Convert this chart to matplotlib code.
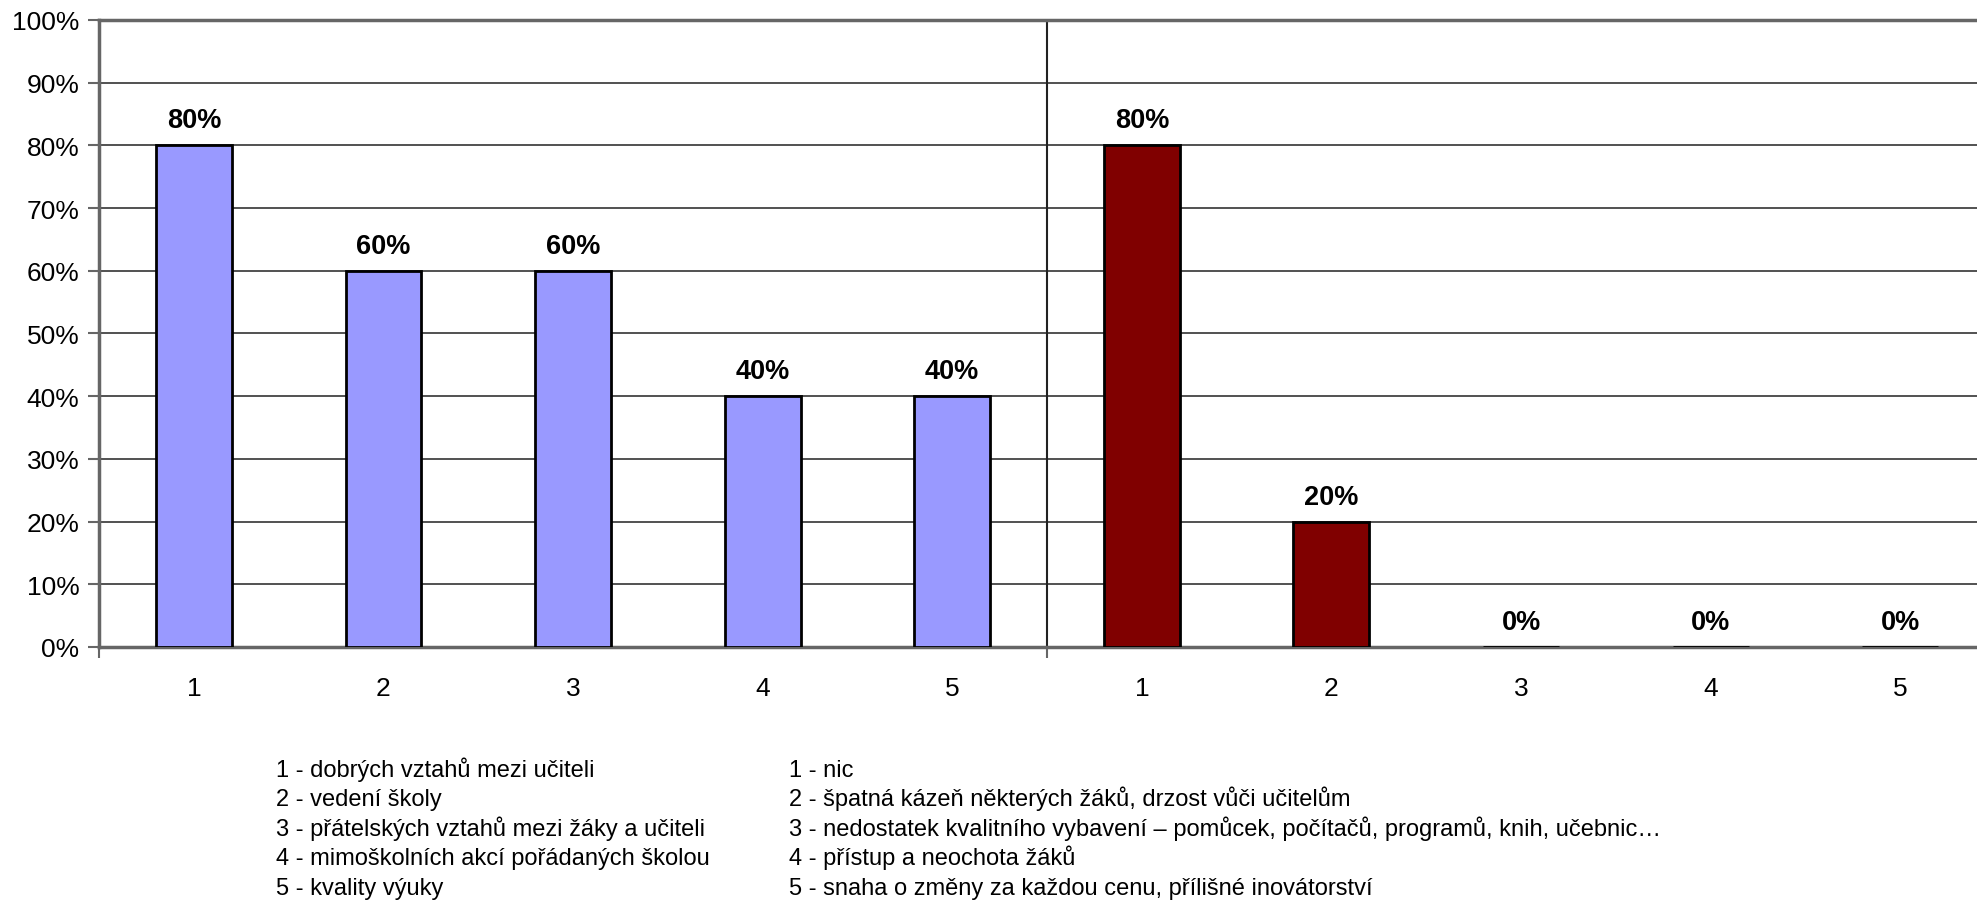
import numpy as np
import matplotlib.pyplot as plt

plt.rcParams['font.family'] = ['Liberation Sans', 'DejaVu Sans']

# data
categories = ['1', '2', '3', '4', '5']
positive = [80, 60, 60, 40, 40]   # what is good at the school
negative = [80, 20, 0, 0, 0]      # what is bad at the school

legend_left = [
    '1 - dobrých vztahů mezi učiteli',
    '2 - vedení školy',
    '3 - přátelských vztahů mezi žáky a učiteli',
    '4 - mimoškolních akcí pořádaných školou',
    '5 - kvality výuky',
]
legend_right = [
    '1 - nic',
    '2 - špatná kázeň některých žáků, drzost vůči učitelům',
    '3 - nedostatek kvalitního vybavení – pomůcek, počítačů, programů, knih, učebnic…',
    '4 - přístup a neochota žáků',
    '5 - snaha o změny za každou cenu, přílišné inovátorství',
]

fig = plt.figure(figsize=(19.77, 9.04), dpi=100)
ax = fig.add_axes([0.0501, 0.2832, 0.959, 0.6936])

n = len(categories)
x1 = np.arange(n)
x2 = np.arange(n) + n
values = positive + negative
xs = np.concatenate([x1, x2])

ax.bar(x1, positive, width=0.4, color='#9999FF', edgecolor='black', linewidth=2, zorder=3)
ax.bar(x2, negative, width=0.4, color='#800000', edgecolor='black', linewidth=2, zorder=3)

for x, v in zip(xs, values):
    ax.annotate(f'{v}%', (x, v), xytext=(0, 18), textcoords='offset points',
                ha='center', va='center', fontsize=19.5, fontweight='bold')

ax.set_xlim(-0.5, 2 * n - 0.5)
ax.set_ylim(0, 100)
ax.set_yticks(np.arange(0, 101, 10))
ax.set_yticklabels([f'{t}%' for t in range(0, 101, 10)], fontsize=19)
ax.yaxis.grid(True, color='#222222', linewidth=1.1, zorder=0)
ax.axvline(n - 0.5, color='#222222', linewidth=1.5, zorder=1)

ax.set_xticks(xs)
ax.set_xticklabels(categories * 2, fontsize=19)
ax.tick_params(axis='x', length=0, pad=21)
ax.set_xticks([-0.5, n - 0.5], minor=True)
ax.tick_params(axis='x', which='minor', length=8, width=1.5, color='#666666')
ax.tick_params(axis='y', length=8, width=1.5, color='#666666', pad=6)

for s in ['left', 'bottom', 'top']:
    ax.spines[s].set_color('#666666')
    ax.spines[s].set_linewidth(2.5)
ax.spines['right'].set_visible(False)

for i, (a, b) in enumerate(zip(legend_left, legend_right)):
    y = 1 - (777 + i * 29.5) / 904
    fig.text(276 / 1977, y, a, fontsize=17, va='baseline', ha='left')
    fig.text(789 / 1977, y, b, fontsize=17, va='baseline', ha='left')

fig.savefig('out.png', dpi=100)
